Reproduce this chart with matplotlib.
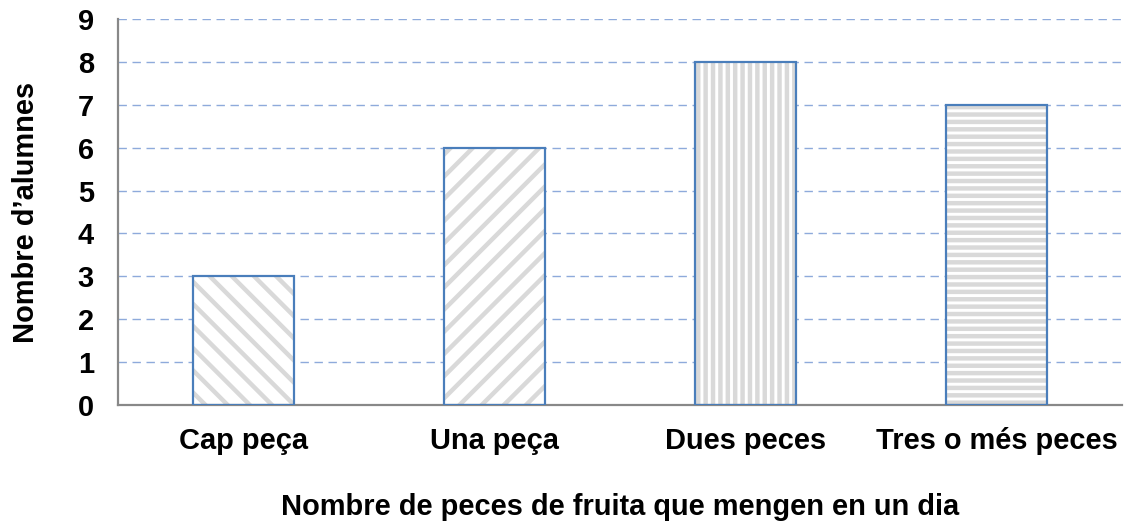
import matplotlib.pyplot as plt
import numpy as np

DPI = 133.33
k = 72 / DPI  # points per pixel

plt.rcParams['font.family'] = ['Liberation Sans', 'DejaVu Sans']
plt.rcParams['hatch.linewidth'] = 2.4
plt.rcParams['hatch.color'] = '#d9d9d9'

categories = ['Cap peça', 'Una peça', 'Dues peces', 'Tres o més peces']
alumnes = [3, 6, 8, 7]
hatches = ['\\\\', '//', '|||', '---']

fig = plt.figure(figsize=(1133 / DPI, 522 / DPI), dpi=DPI)
ax = fig.add_axes([118/1133, 117/522, 1004/1133, 386/522])

x = np.arange(len(categories))
for i in range(len(categories)):
    ax.bar(x[i], alumnes[i], width=0.4, color='white', edgecolor='#d9d9d9',
           hatch=hatches[i], linewidth=0, zorder=2)
ax.bar(x, alumnes, width=0.4, fill=False, edgecolor='#4a7ebb', linewidth=2.2 * k, zorder=3)

ax.set_xlim(-0.5, 3.5)
ax.set_ylim(0, 9)
ax.set_yticks(range(10))
ax.yaxis.grid(True, linestyle=(0, (6, 4)), color='#8eaadb', linewidth=1.4 * k, zorder=0)
ax.set_axisbelow(True)

for s in ['top', 'right']:
    ax.spines[s].set_visible(False)
for s in ['left', 'bottom']:
    ax.spines[s].set_color('#888888')
    ax.spines[s].set_linewidth(2.2 * k)

fs = 29 * k
ax.set_xticks(x)
ax.set_xticklabels(categories, fontsize=fs, fontweight='bold')
ax.tick_params(axis='x', length=0, pad=22 * k)
ax.tick_params(axis='y', length=0, pad=24 * k, labelsize=fs)
for t in ax.get_yticklabels():
    t.set_fontweight('bold')

ax.set_xlabel('Nombre de peces de fruita que mengen en un dia', fontsize=fs,
              fontweight='bold', labelpad=38 * k)
ax.set_ylabel('Nombre d\u2019alumnes', fontsize=fs, fontweight='bold', labelpad=38 * k)

plt.savefig('out.png', dpi=DPI)
